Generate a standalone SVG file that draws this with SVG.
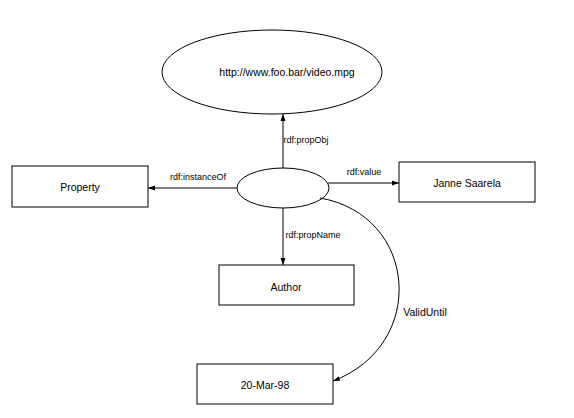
<svg xmlns="http://www.w3.org/2000/svg" width="574" height="418" viewBox="0 0 574 418">
<defs>
<marker id="ah" markerWidth="8" markerHeight="6" refX="7" refY="3" orient="auto" markerUnits="userSpaceOnUse">
<path d="M0,0.5 L7,3 L0,5.5 z" fill="#000"/>
</marker>
<style>
.shape{fill:#fff;stroke:#000;stroke-width:1}
.t{font-family:"Liberation Sans",Arial,sans-serif;font-size:10.5px;text-anchor:middle;fill:#000}
.l{font-family:"Liberation Sans",Arial,sans-serif;font-size:9px;text-anchor:middle;fill:#000}
.e{fill:none;stroke:#000;stroke-width:1;marker-end:url(#ah)}
</style>
</defs>
<rect width="574" height="418" fill="#fff"/>
<g id="video">
<ellipse class="shape" cx="272" cy="72" rx="110" ry="42"/>
<text class="t" x="287" y="76">http://www.foo.bar/video.mpg</text>
</g>
<g id="center">
<ellipse class="shape" cx="283" cy="188" rx="46" ry="20"/>
</g>
<g id="property">
<rect class="shape" x="12" y="166" width="136" height="41"/>
<text class="t" x="80" y="191">Property</text>
</g>
<g id="janne">
<rect class="shape" x="399" y="162" width="136" height="40"/>
<text class="t" x="467" y="187">Janne Saarela</text>
</g>
<g id="author">
<rect class="shape" x="219" y="265" width="135" height="40"/>
<text class="t" x="286" y="291">Author</text>
</g>
<g id="date">
<rect class="shape" x="197" y="364" width="136" height="40"/>
<text class="t" x="265" y="389">20-Mar-98</text>
</g>
<g id="connectors">
<line class="e" x1="283" y1="168" x2="283" y2="114"/>
<line class="e" x1="237" y1="188" x2="148" y2="188"/>
<line class="e" x1="328" y1="183" x2="399" y2="183"/>
<line class="e" x1="283" y1="208" x2="283" y2="265"/>
<path class="e" d="M320,198 C418,215 428,345 333,381"/>
<text class="l" x="306" y="143">rdf:propObj</text>
<text class="l" x="198" y="180">rdf:instanceOf</text>
<text class="l" x="364" y="175">rdf:value</text>
<text class="l" x="313" y="238">rdf:propName</text>
<text class="t" x="425" y="316">ValidUntil</text>
</g>
</svg>
